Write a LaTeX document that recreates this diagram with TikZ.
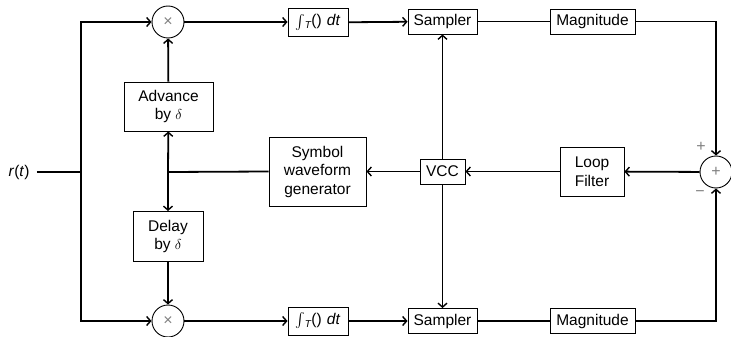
\documentclass[tikz,border=0pt]{standalone}
\usepackage{fontspec}
\setmainfont{Liberation Sans}
\usetikzlibrary{arrows.meta}
\newcommand{\intT}{\raisebox{-2pt}{\scalebox{1.45}{$\int$}}\kern-0.5pt\raisebox{-3pt}{\fontsize{10}{10}\selectfont\textit{T}}()\,\,\textit{dt}}
\begin{document}
\begin{tikzpicture}[x=1pt,y=-1pt,
  every node/.style={font=\fontsize{15.5}{18.5}\selectfont},
  blk/.style={draw,line width=0.9pt,inner sep=0pt,align=center},
  mixer/.style={circle,draw,line width=0.9pt,minimum size=32pt,inner sep=0pt},
  sign/.style={text=black!50,font=\fontsize{16}{16}\selectfont},
  inner/.style={text=black!50,font=\fontsize{16}{16}\selectfont},
  wire/.style={line width=1.8pt},
  arr/.style={wire,-{Straight Barb[length=4pt,width=9pt,line width=1.4pt]}}]
\useasboundingbox (0,0) rectangle (731,337);

% input
\node (rt) at (19,172) {\textit{r}(\textit{t})};
\coordinate (split) at (81,172);
\coordinate (topL) at (81,22);
\coordinate (botL) at (81,321);

% early branch
\node[mixer] (mulT) at (168,22) {};
\node[inner] at (mulT) {\texttimes};
\node[blk,minimum width=60pt,minimum height=28pt] (intT) at (318,22.5) {\intT};
\node[blk,minimum width=69pt,minimum height=25pt] (sampT) at (442.5,21.5) {Sampler};
\node[blk,minimum width=85pt,minimum height=25pt] (magT) at (592.5,21.5) {Magnitude};

% late branch
\node[mixer] (mulB) at (168,321) {};
\node[inner] at (mulB) {\texttimes};
\node[blk,minimum width=60pt,minimum height=28pt] (intB) at (318,321) {\intT};
\node[blk,minimum width=69pt,minimum height=25pt] (sampB) at (442.5,321) {Sampler};
\node[blk,minimum width=85pt,minimum height=25pt] (magB) at (592.5,321) {Magnitude};

% timing loop
\node[blk,minimum width=89pt,minimum height=49pt] (adv) at (168.5,106.5) {Advance\\by $\delta$};
\node[blk,minimum width=70pt,minimum height=50pt] (dly) at (168,236.5) {Delay\\by $\delta$};
\node[blk,minimum width=97pt,minimum height=69pt] (swg) at (317.5,171.5) {Symbol\\waveform\\generator};
\node[blk,minimum width=45pt,minimum height=25pt] (vcc) at (442.5,171.5) {VCC};
\node[blk,minimum width=64pt,minimum height=49pt] (lf) at (592,171.5) {Loop\\Filter};
\node[mixer] (sum) at (716,172) {};
\node[inner] at (sum) {+};
\node[sign] (plus) at (701,147) {+};
\node[sign] (minus) at (700,194) {\textminus};
\coordinate (tap) at (168,172);

% connectors
\draw[wire] (rt.east) ++(4,0) -- (split);
\draw[arr] (split) -- (topL) -- (mulT.west);
\draw[arr] (split) -- (botL) -- (mulB.west);
\draw[arr] (mulT) -- (intT.west |- mulT);
\draw[arr] (intT) -- (sampT);
\draw[wire] (sampT) -- (magT);
\draw[arr] (magT.east) -| (sum.north);
\draw[arr] (mulB) -- (intB);
\draw[arr] (intB) -- (sampB);
\draw[wire] (sampB) -- (magB);
\draw[arr] (magB.east) -| (sum.south);
\draw[arr] (sum) -- (lf);
\draw[arr] (lf) -- (vcc);
\draw[arr] (vcc) -- (swg);
\draw[arr] (vcc) -- (sampT);
\draw[arr] (vcc) -- (sampB);
\draw[wire] (swg.west) -- (tap);
\draw[arr] (tap) -- (adv);
\draw[arr] (tap) -- (dly);
\draw[arr] (adv) -- (mulT);
\draw[arr] (dly) -- (mulB);
\end{tikzpicture}
\end{document}
